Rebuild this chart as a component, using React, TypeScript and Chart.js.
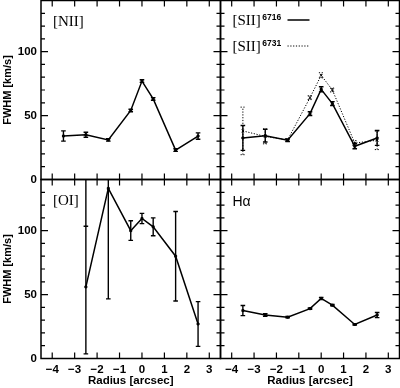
import React, { useEffect, useRef } from "react";
import { Chart, registerables } from "chart.js";

Chart.register(...registerables);

// ---------- data ----------
const radius = [-3.5, -2.5, -1.5, -0.5, 0, 0.5, 1.5, 2.5];

const niiFwhm = [34, 35, 31, 54, 77, 63, 23, 34];
const niiErr = [4, 2, 1, 1, 1, 1, 1, 2.5];

const sii6716Fwhm = [32.5, 34.3, 30.7, 51.5, 70.5, 59.4, 26, 32.5];
const sii6716Err = [9.7, 5, 1, 1.5, 2, 1.5, 2, 5.8];

const sii6731Fwhm = [38, 33.7, 31, 64, 81.5, 70, 28.5, 30.7];
const sii6731Err = [18.6, 5.8, 1, 1.5, 2, 1.5, 2, 7.3];

const oiRadius = [-2.5, -1.5, -0.5, 0, 0.5, 1.5, 2.5];
const oiFwhm = [56, 133, 100, 109.5, 103, 80, 27];
const oiLow = [3.6, 46.6, 92.4, 105.5, 96, 45, 9.5];
const oiHigh = [103.4, 221, 107.7, 113.5, 110, 115, 44.5];
const oiTailRadius = [-2.5];
const oiTailFrom = [103.4];
const oiTailTo = [200];

const haFwhm = [37.5, 34, 32.3, 39, 47, 41.7, 26.6, 34];
const haErr = [4, 1, 0.5, 0.5, 0.8, 0.5, 0.5, 2];

const xTicks = [-4, -3, -2, -1, 0, 1, 2, 3];
const yTicks = [0, 50, 100];
const X_MIN = -4.5;
const X_MAX = 3.5;
const Y_MIN = 0;
const Y_MAX = 140;

// ---------- layout ----------
const W = 400;
const H = 388;
const COL = [41, 220.5, 399.5];
const ROW = [0.5, 179.5, 358.5];

type Series = {
  x: number[];
  y: number[];
  lo: number[];
  hi: number[];
  dashed?: boolean;
  tailX?: number[];
  tailFrom?: number[];
  tailTo?: number[];
};

type Panel = {
  col: number;
  row: number;
  series: Series[];
  label: (ctx: CanvasRenderingContext2D, a: { left: number; top: number }) => void;
};

const sym = (v: number[], e: number[], s: number) => v.map((y, i) => y + s * e[i]);

const SERIF = "'Liberation Serif', 'DejaVu Serif', serif";
const SANS = "'Liberation Sans', Arial, sans-serif";

const panels: Panel[] = [
  {
    col: 0,
    row: 0,
    series: [{ x: radius, y: niiFwhm, lo: sym(niiFwhm, niiErr, -1), hi: sym(niiFwhm, niiErr, 1) }],
    label: (ctx, a) => {
      ctx.font = `15px ${SERIF}`;
      ctx.fillText("[NII]", a.left + 12, a.top + 22);
    },
  },
  {
    col: 1,
    row: 0,
    series: [
      { x: radius, y: sii6716Fwhm, lo: sym(sii6716Fwhm, sii6716Err, -1), hi: sym(sii6716Fwhm, sii6716Err, 1) },
      {
        x: radius,
        y: sii6731Fwhm,
        lo: sym(sii6731Fwhm, sii6731Err, -1),
        hi: sym(sii6731Fwhm, sii6731Err, 1),
        dashed: true,
      },
    ],
    label: (ctx, a) => {
      const rows = [
        { t: "6716", y: 21, dash: [] as number[] },
        { t: "6731", y: 47, dash: [1.2, 1.6] },
      ];
      for (const r of rows) {
        ctx.font = `15px ${SERIF}`;
        ctx.fillText("[SII]", a.left + 12, a.top + r.y);
        const w = ctx.measureText("[SII]").width;
        ctx.font = `bold 8.5px ${SANS}`;
        ctx.fillText(r.t, a.left + 12 + w + 1.5, a.top + r.y - 3.5);
        ctx.save();
        ctx.setLineDash(r.dash);
        ctx.lineWidth = r.dash.length ? 1 : 1.5;
        ctx.beginPath();
        ctx.moveTo(a.left + 67, a.top + r.y - 1.5);
        ctx.lineTo(a.left + 89, a.top + r.y - 1.5);
        ctx.stroke();
        ctx.restore();
      }
    },
  },
  {
    col: 0,
    row: 1,
    series: [
      {
        x: oiRadius,
        y: oiFwhm,
        lo: oiLow,
        hi: oiHigh,
        tailX: oiTailRadius,
        tailFrom: oiTailFrom,
        tailTo: oiTailTo,
      },
    ],
    label: (ctx, a) => {
      ctx.font = `15px ${SERIF}`;
      ctx.fillText("[OI]", a.left + 12, a.top + 22);
    },
  },
  {
    col: 1,
    row: 1,
    series: [{ x: radius, y: haFwhm, lo: sym(haFwhm, haErr, -1), hi: sym(haFwhm, haErr, 1) }],
    label: (ctx, a) => {
      ctx.font = `14px ${SANS}`;
      ctx.fillText("H\u03b1", a.left + 12, a.top + 23);
    },
  },
];

const fmt = (v: number) => (v < 0 ? "\u2212" + Math.abs(v) : String(v));

function makeChart(canvas: HTMLCanvasElement, p: Panel): Chart {
  const left = COL[p.col];
  const right = COL[p.col + 1];
  const top = ROW[p.row];
  const bottom = ROW[p.row + 1];
  const showY = p.col === 0;
  const showX = p.row === 1;

  const framePlugin = {
    id: "frame",
    afterDraw(chart: any) {
      const { ctx, chartArea: a } = chart;
      const xs = chart.scales.x;
      const ys = chart.scales.y;
      ctx.save();
      ctx.strokeStyle = "#000";
      ctx.lineWidth = 1.2;
      ctx.beginPath();
      for (const v of xTicks) {
        const px = xs.getPixelForValue(v);
        ctx.moveTo(px, a.bottom);
        ctx.lineTo(px, a.bottom - 6);
        ctx.moveTo(px, a.top);
        ctx.lineTo(px, a.top + 6);
      }
      for (let v = 10; v < Y_MAX; v += 10) {
        const py = ys.getPixelForValue(v);
        const len = v % 50 === 0 ? 7 : 4;
        ctx.moveTo(a.left, py);
        ctx.lineTo(a.left + len, py);
        ctx.moveTo(a.right, py);
        ctx.lineTo(a.right - len, py);
      }
      ctx.stroke();
      ctx.lineWidth = 1.5;
      ctx.strokeRect(a.left, a.top, a.right - a.left, a.bottom - a.top);
      ctx.fillStyle = "#000";
      ctx.textBaseline = "middle";
      ctx.textAlign = "left";
      p.label(ctx, a);
      ctx.restore();
    },
  };

  const errPlugin = {
    id: "errbars",
    afterDatasetsDraw(chart: any) {
      const { ctx, chartArea: a } = chart;
      const xs = chart.scales.x;
      const ys = chart.scales.y;
      ctx.save();
      ctx.beginPath();
      ctx.rect(a.left, a.top, a.right - a.left, a.bottom - a.top);
      ctx.clip();
      ctx.strokeStyle = "#000";
      for (const s of p.series) {
        ctx.setLineDash(s.dashed ? [1.2, 1.6] : []);
        ctx.lineWidth = s.dashed ? 1 : 1.4;
        ctx.beginPath();
        s.x.forEach((x, i) => {
          const px = xs.getPixelForValue(x);
          const y0 = ys.getPixelForValue(s.lo[i]);
          const y1 = ys.getPixelForValue(s.hi[i]);
          ctx.moveTo(px, y0);
          ctx.lineTo(px, y1);
          ctx.moveTo(px - 2.3, y0);
          ctx.lineTo(px + 2.3, y0);
          ctx.moveTo(px - 2.3, y1);
          ctx.lineTo(px + 2.3, y1);
        });
        if (s.tailX && s.tailFrom && s.tailTo) {
          s.tailX.forEach((x, i) => {
            const px = xs.getPixelForValue(x);
            ctx.moveTo(px, ys.getPixelForValue(s.tailFrom![i]));
            ctx.lineTo(px, ys.getPixelForValue(s.tailTo![i]));
          });
        }
        ctx.stroke();
      }
      ctx.restore();
    },
  };

  const tickFont = { family: SANS, size: 11.5, weight: "bold" as const };

  return new Chart(canvas, {
    type: "line",
    data: {
      datasets: p.series.map((s) => ({
        data: s.x.map((x, i) => ({ x, y: s.y[i] })),
        borderColor: "#000",
        backgroundColor: "#000",
        borderWidth: s.dashed ? 1 : 1.5,
        borderDash: s.dashed ? [1.2, 1.6] : [],
        pointRadius: s.dashed ? 1.8 : 1.4,
        pointHoverRadius: 0,
        pointStyle: s.dashed ? "crossRot" : "rect",
        pointBorderColor: "#000",
        pointBackgroundColor: "#000",
        pointBorderWidth: 1,
        fill: false,
        tension: 0,
      })),
    },
    options: {
      responsive: false,
      maintainAspectRatio: false,
      animation: false,
      events: [],
      layout: {
        autoPadding: false,
        padding: {
          left: showY ? 0 : left,
          top: top,
          right: W - right,
          bottom: showX ? 0 : H - bottom,
        },
      },
      plugins: {
        legend: { display: false },
        tooltip: { enabled: false },
      },
      scales: {
        x: {
          type: "linear",
          min: X_MIN,
          max: X_MAX,
          display: showX,
          afterBuildTicks: (s: any) => {
            s.ticks = xTicks.map((v) => ({ value: v }));
          },
          afterFit: (s: any) => {
            s.height = showX ? H - bottom : 0;
            s.paddingLeft = 0;
            s.paddingRight = 0;
          },
          grid: { display: false, drawTicks: false },
          border: { display: false },
          ticks: {
            color: "#000",
            font: tickFont,
            padding: 4,
            autoSkip: false,
            maxRotation: 0,
            callback: (v: any) => fmt(Number(v)),
          },
          title: {
            display: true,
            text: "Radius [arcsec]",
            color: "#000",
            font: { family: SANS, size: 11.5, weight: "bold" },
            padding: { top: 0, bottom: 0 },
          },
        },
        y: {
          type: "linear",
          min: Y_MIN,
          max: Y_MAX,
          display: showY,
          afterBuildTicks: (s: any) => {
            s.ticks = yTicks.map((v) => ({ value: v }));
          },
          afterFit: (s: any) => {
            s.width = showY ? left : 0;
            s.paddingTop = 0;
            s.paddingBottom = 0;
          },
          grid: { display: false, drawTicks: false },
          border: { display: false },
          ticks: {
            color: "#000",
            font: tickFont,
            padding: 4,
            autoSkip: false,
            callback: (v: any) => fmt(Number(v)),
          },
          title: {
            display: true,
            text: "FWHM [km/s]",
            color: "#000",
            font: { family: SANS, size: 11, weight: "bold" },
            padding: { top: 1, bottom: 0 },
          },
        },
      },
    },
    plugins: [errPlugin, framePlugin],
  } as any);
}

function PanelCanvas({ panel }: { panel: Panel }) {
  const ref = useRef<HTMLCanvasElement | null>(null);
  useEffect(() => {
    if (!ref.current) return;
    const chart = makeChart(ref.current, panel);
    return () => chart.destroy();
  }, [panel]);
  return (
    <canvas
      ref={ref}
      width={W}
      height={H}
      style={{ position: "absolute", left: 0, top: 0, width: W, height: H }}
    />
  );
}

export default function App() {
  return (
    <div
      style={{
        position: "fixed",
        left: 0,
        top: 0,
        width: W,
        height: H,
        background: "#fff",
      }}
    >
      {panels.map((p, i) => (
        <PanelCanvas key={i} panel={p} />
      ))}
    </div>
  );
}
